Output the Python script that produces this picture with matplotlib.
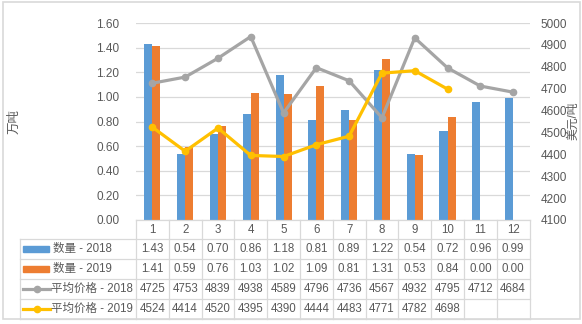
"""Monthly volume and average price, 2018 vs 2019, with an Excel-style data table."""

import numpy as np
import matplotlib

matplotlib.use("Agg")
from matplotlib import pyplot as plt
from matplotlib import transforms
from matplotlib.lines import Line2D
from matplotlib.patches import Rectangle

plt.rcParams["font.family"] = ["Liberation Sans", "Noto Sans CJK SC", "DejaVu Sans"]

months = [1, 2, 3, 4, 5, 6, 7, 8, 9, 10, 11, 12]
qty_2018 = [1.43, 0.54, 0.70, 0.86, 1.18, 0.81, 0.89, 1.22, 0.54, 0.72, 0.96, 0.99]
qty_2019 = [1.41, 0.59, 0.76, 1.03, 1.02, 1.09, 0.81, 1.31, 0.53, 0.84, 0.00, 0.00]
price_2018 = [4725, 4753, 4839, 4938, 4589, 4796, 4736, 4567, 4932, 4795, 4712, 4684]
price_2019 = [4524, 4414, 4520, 4395, 4390, 4444, 4483, 4771, 4782, 4698]

series_names = ["数量 - 2018", "数量 - 2019", "平均价格 - 2018", "平均价格 - 2019"]
left_label = "万吨"
right_label = "美元/吨"

BLUE = "#5B9BD5"
ORANGE = "#ED7D31"
GRAY = "#A5A5A5"
YELLOW = "#FFC000"
TEXT = "#595959"
RULE = "#D9D9D9"

W, H = 582, 324
FS = 8.3


def fx(px):
    return px / W


def fy(py):
    return 1 - py / H


fig = plt.figure(figsize=(W / 100, H / 100), dpi=100)
ax = fig.add_axes([fx(136), fy(220), fx(529.5) - fx(136), fy(23) - fy(220)])
ax2 = ax.twinx()

x = np.array(months, dtype=float)
bw = 0.245
ax.bar(x - bw / 2, qty_2018, bw, color=BLUE, zorder=2)
ax.bar(x + bw / 2, qty_2019, bw, color=ORANGE, zorder=2)
ax.set_xlim(0.5, 12.5)
ax.set_ylim(0, 1.6)
ax.set_yticks(np.arange(0, 1.61, 0.2))
ax.set_yticklabels([f"{v:.2f}" for v in np.arange(0, 1.61, 0.2)])
ax.grid(axis="y", color=RULE, linewidth=0.9, zorder=0)
ax.set_axisbelow(True)
ax.set_xticks([])

ax2.plot(x, price_2018, color=GRAY, linewidth=2.3, marker="o", markersize=4.5, zorder=3)
ax2.plot(x[: len(price_2019)], price_2019, color=YELLOW, linewidth=2.3,
         marker="o", markersize=4.5, zorder=4)
ax2.set_ylim(4100, 5000)
ax2.set_yticks(np.arange(4100, 5001, 100))

for a in (ax, ax2):
    for side in ("top", "left", "right"):
        a.spines[side].set_visible(False)
    a.spines["bottom"].set_color(RULE)
    a.tick_params(axis="y", length=0, labelsize=8.5, labelcolor=TEXT)
ax.tick_params(axis="y", pad=12)
ax2.tick_params(axis="y", pad=8)

fig.text(fx(14), fy(122), left_label, rotation=90, ha="center", va="center",
         fontsize=9, color=TEXT)
fig.text(fx(573.5), fy(121), right_label, rotation=90, ha="center", va="center",
         fontsize=8.5, color=TEXT)

# data table below the plot: x follows the month scale, y in figure pixels
tr = transforms.blended_transform_factory(ax.transData, fig.transFigure)
row_lines = [239, 259, 279, 299, 319]
for py in row_lines:
    fig.add_artist(Line2D([fx(20), fx(529.5)], [fy(py), fy(py)], color=RULE, linewidth=0.9))
fig.add_artist(Line2D([fx(20), fx(20)], [fy(239), fy(319)], color=RULE, linewidth=0.9))
for edge in np.arange(0.5, 13, 1.0):
    fig.add_artist(Line2D([edge, edge], [fy(220), fy(319)], color=RULE,
                          linewidth=0.9, transform=tr))

for m in months:
    fig.text(m, fy(230), str(m), transform=tr, ha="center", va="center",
             fontsize=FS, color=TEXT)

rows = [
    [f"{v:.2f}" for v in qty_2018],
    [f"{v:.2f}" for v in qty_2019],
    [str(v) for v in price_2018],
    [str(v) for v in price_2019],
]
for r, vals in enumerate(rows):
    yc = fy((row_lines[r] + row_lines[r + 1]) / 2)
    for m, s in zip(months, vals):
        fig.text(m, yc, s, transform=tr, ha="center", va="center",
                 fontsize=FS, color=TEXT)

# legend keys in the first column
for r, name in enumerate(series_names):
    yc = (row_lines[r] + row_lines[r + 1]) / 2
    if r < 2:
        fig.add_artist(Rectangle((fx(23), fy(yc + 3)), fx(49) - fx(23), fy(yc - 3) - fy(yc + 3),
                                 color=[BLUE, ORANGE][r]))
        tx = 53
    else:
        col = [GRAY, YELLOW][r - 2]
        fig.add_artist(Line2D([fx(23), fx(50)], [fy(yc), fy(yc)], color=col, linewidth=2.3))
        fig.add_artist(Line2D([fx(36.5)], [fy(yc)], color=col, marker="o", markersize=4.5))
        tx = 51
    fig.text(fx(tx), fy(yc), name, ha="left", va="center", fontsize=FS, color=TEXT)

# chart border
fig.add_artist(Rectangle((fx(3), fy(319)), fx(580) - fx(3), fy(2) - fy(319),
                         fill=False, edgecolor=RULE, linewidth=1.2))

fig.savefig("out.png", dpi=100)
